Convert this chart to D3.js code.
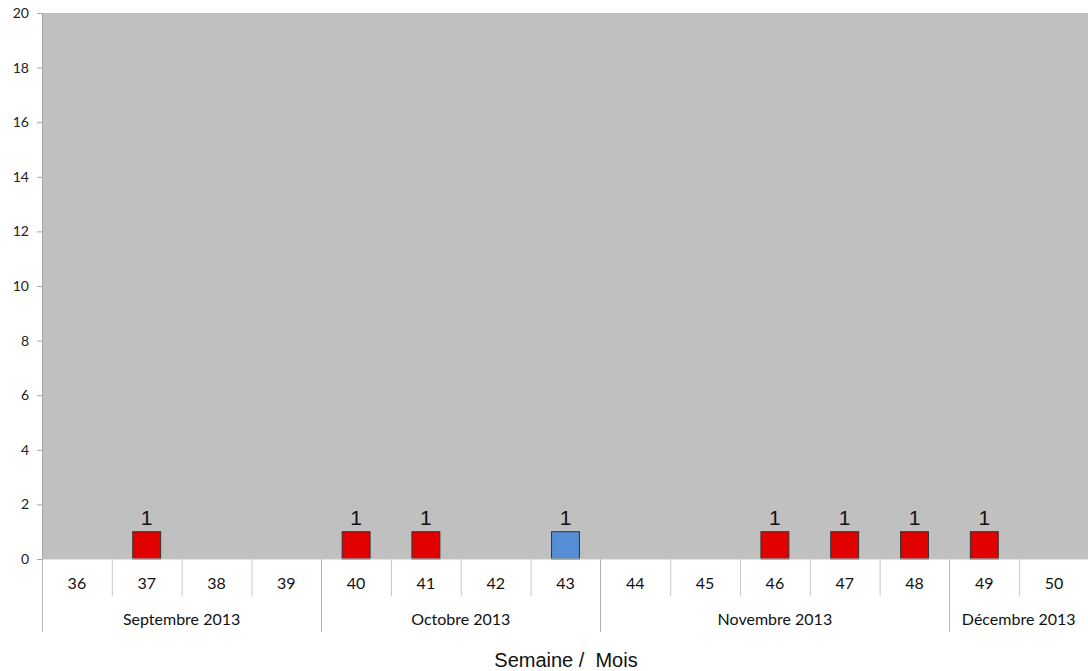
<!DOCTYPE html>
<html>
<head>
<meta charset="utf-8">
<script src="https://cdn.jsdelivr.net/npm/d3@7"></script>
<style>
  body { margin: 0; background: #fff; }
  svg { display: block; }
</style>
</head>
<body>
<div id="chart"></div>
<script>
const weeks = ["36","37","38","39","40","41","42","43","44","45","46","47","48","49","50"];
const redValues = [0,1,0,0,1,1,0,0,0,0,1,1,1,1,0];
const blueValues = [0,0,0,0,0,0,0,1,0,0,0,0,0,0,0];
const months = ["Septembre 2013","Octobre 2013","Novembre 2013","Décembre 2013"];
const monthWeekCounts = [4,4,5,2];
const yTicks = [0,2,4,6,8,10,12,14,16,18,20];

const width = 1088, height = 671;
const margin = {left: 42, right: 0, top: 13, bottom: 112};

const svg = d3.select("#chart").append("svg")
    .attr("width", width)
    .attr("height", height);

const x = d3.scaleBand()
    .domain(weeks)
    .range([margin.left, width - margin.right + 1])
    .paddingInner(0.6)
    .paddingOuter(0.3);

const y = d3.scaleLinear()
    .domain([0, 20])
    .range([height - margin.bottom, margin.top]);

// plot background
svg.append("rect")
    .attr("x", margin.left)
    .attr("y", y(20))
    .attr("width", width - margin.left)
    .attr("height", y(0) - y(20))
    .attr("fill", "#c0c0c0");

// y axis
const yAxis = svg.append("g")
    .attr("transform", "translate(" + margin.left + ",0)")
    .call(d3.axisLeft(y).tickValues(yTicks).tickSize(5).tickPadding(8));
yAxis.select(".domain").attr("stroke", "#a6a6a6");
yAxis.selectAll(".tick line").attr("stroke", "#a6a6a6");
yAxis.selectAll("text")
    .attr("font-family", "Lato, 'Open Sans', sans-serif")
    .attr("font-size", 14)
    .attr("fill", "#222");

// bars
const step = x.step();
function drawSeries(values, color) {
    const pts = weeks.map((w, i) => ({w: w, v: values[i]})).filter(d => d.v > 0);
    svg.append("g").selectAll("rect")
        .data(pts)
        .enter()
        .append("rect")
        .attr("x", d => x(d.w))
        .attr("y", d => y(d.v))
        .attr("width", x.bandwidth())
        .attr("height", d => y(0) - y(d.v))
        .attr("fill", color)
        .attr("stroke", "#333")
        .attr("stroke-width", 1);

    svg.append("g").selectAll("text")
        .data(pts)
        .enter()
        .append("text")
        .attr("x", d => x(d.w) + x.bandwidth() / 2)
        .attr("y", d => y(d.v) - 7)
        .attr("text-anchor", "middle")
        .attr("font-family", "'Liberation Sans', Arial, sans-serif")
        .attr("font-size", 21)
        .attr("fill", "#111")
        .text(d => d.v);
}
drawSeries(redValues, "#e00000");
drawSeries(blueValues, "#558ed5");

// category axis
const base = y(0);
const catLeft = i => margin.left + i * step;

svg.append("line")
    .attr("x1", margin.left).attr("x2", width)
    .attr("y1", base).attr("y2", base)
    .attr("stroke", "#c8c8c8");

// week separators
const monthStarts = [0];
monthWeekCounts.forEach((c, i) => monthStarts.push(monthStarts[i] + c));
for (let i = 1; i < weeks.length; i++) {
    if (monthStarts.indexOf(i) >= 0) continue;
    svg.append("line")
        .attr("x1", catLeft(i) + 0.5).attr("x2", catLeft(i) + 0.5)
        .attr("y1", base).attr("y2", base + 37)
        .attr("stroke", "#c8c8c8");
}
// month separators
monthStarts.slice(0, -1).forEach(s => {
    svg.append("line")
        .attr("x1", Math.round(catLeft(s)) + 0.5).attr("x2", Math.round(catLeft(s)) + 0.5)
        .attr("y1", base).attr("y2", base + 73)
        .attr("stroke", "#b4b4b4");
});

svg.append("g").selectAll("text")
    .data(weeks)
    .enter()
    .append("text")
    .attr("x", d => x(d) + x.bandwidth() / 2)
    .attr("y", base + 30)
    .attr("text-anchor", "middle")
    .attr("font-family", "Lato, 'Open Sans', sans-serif")
    .attr("font-size", 16)
    .attr("fill", "#111")
    .text(d => d);

svg.append("g").selectAll("text")
    .data(months)
    .enter()
    .append("text")
    .attr("x", (d, i) => (catLeft(monthStarts[i]) + Math.min(catLeft(monthStarts[i + 1]), width)) / 2)
    .attr("y", base + 66)
    .attr("text-anchor", "middle")
    .attr("font-family", "Lato, 'Open Sans', sans-serif")
    .attr("font-size", 16)
    .attr("fill", "#111")
    .text(d => d);

// axis title
svg.append("text")
    .attr("x", 566)
    .attr("y", 667)
    .attr("text-anchor", "middle")
    .attr("font-family", "'Liberation Sans', Arial, sans-serif")
    .attr("font-size", 20)
    .attr("fill", "#111")
    .attr("xml:space", "preserve")
    .text("Semaine /  Mois");
</script>
</body>
</html>
